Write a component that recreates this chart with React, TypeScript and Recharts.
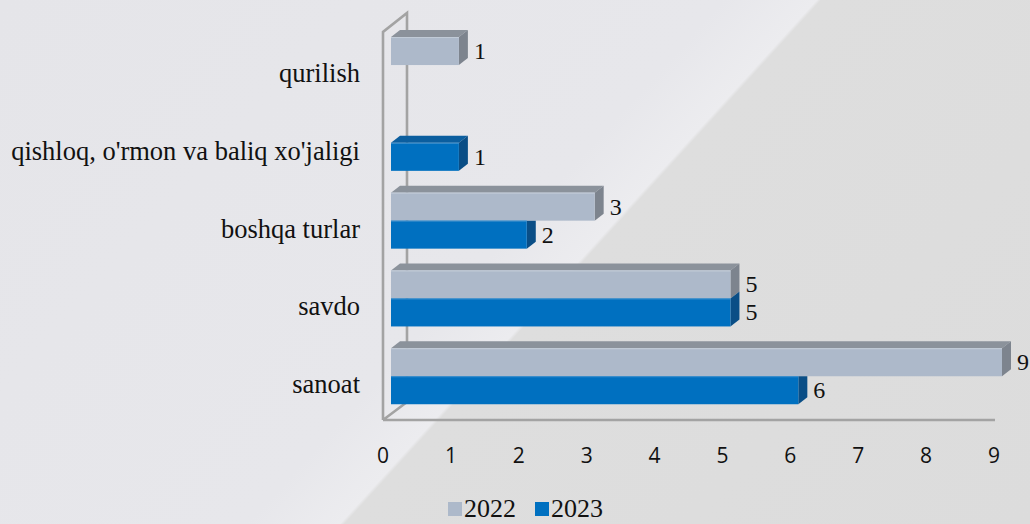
// Gráfico de barras horizontales con efecto 3D (estilo Excel) que compara
// 2022 y 2023 por sector. Las caras superior y lateral de cada barra se
// dibujan en un shape propio; el marco de la pared/suelo sale de un
// ReferenceLine para que sus coordenadas vengan de las escalas del chart.

import { BarChart, Bar, XAxis, YAxis, Legend, LabelList, ReferenceLine } from 'recharts'

const categorias = [
  'qurilish',
  "qishloq, o'rmon va baliq xo'jaligi",
  'boshqa turlar',
  'savdo',
  'sanoat',
]
const valores2022: (number | null)[] = [1, null, 3, 5, 9]
const valores2023: (number | null)[] = [null, 1, 2, 5, 6]
const ticksX = [0, 1, 2, 3, 4, 5, 6, 7, 8, 9]

const data = categorias.map((c, i) => ({
  categoria: c,
  v2022: valores2022[i],
  v2023: valores2023[i],
}))

// profundidad del efecto 3D
const DX = 9
const DY = 7

const SERIF = '"Liberation Serif", "Times New Roman", serif'
const SANS = '"Open Sans", "Noto Sans", sans-serif'

const COLOR_2022 = { frente: '#adb9ca', tapa: '#8b929b', lado: '#7d848e', borde: '#c3ccd8' }
const COLOR_2023 = { frente: '#0070c0', tapa: '#0b5e9f', lado: '#0a4e86', borde: '#3d8fcc' }

type Colores = typeof COLOR_2022

function Barra3D(props: any, colores: Colores, conTapa: boolean, recortarLado: boolean) {
  const { x, y, width, height } = props
  if (!width || width <= 0 || !height) return null
  const r = x + width
  const lado = recortarLado
    ? `${r},${y} ${r + DX},${y} ${r + DX},${y + height - DY} ${r},${y + height}`
    : `${r},${y} ${r + DX},${y - DY} ${r + DX},${y + height - DY} ${r},${y + height}`
  return (
    <g>
      {conTapa && (
        <polygon
          points={`${x},${y} ${x + DX},${y - DY} ${r + DX},${y - DY} ${r},${y}`}
          fill={colores.tapa}
        />
      )}
      <polygon points={lado} fill={colores.lado} />
      <rect x={x} y={y} width={width} height={height} fill={colores.frente} />
      <line x1={x} y1={y + 0.5} x2={r} y2={y + 0.5} stroke={colores.borde} strokeWidth={1} />
    </g>
  )
}

function forma2022(props: any) {
  return Barra3D(props, COLOR_2022, true, false)
}

function forma2023(props: any) {
  const arriba = props.payload?.v2022
  const propio = props.payload?.v2023
  const hayArriba = arriba != null
  return Barra3D(props, COLOR_2023, !hayArriba, hayArriba && arriba > propio)
}

function EtiquetaValor(props: any) {
  const { value } = props
  if (value == null) return null
  const vb = props.viewBox ?? props
  const { x, y, width, height } = vb
  return (
    <text
      x={x + width + DX + 6}
      y={y + height / 2}
      dominantBaseline="central"
      style={{ fontFamily: SERIF }}
      fontSize={24}
      fill="#111"
    >
      {value}
    </text>
  )
}

function TickCategoria({ x, y, payload }: any) {
  return (
    <text
      x={x - 31}
      y={y + 8}
      textAnchor="end"
      dominantBaseline="central"
      style={{ fontFamily: SERIF }}
      fontSize={26.5}
      fill="#111"
    >
      {payload.value}
    </text>
  )
}

function TickValor({ x, y, payload }: any) {
  return (
    <text
      x={x - 8}
      y={y + 40}
      textAnchor="middle"
      dominantBaseline="central"
      style={{ fontFamily: SANS }}
      fontSize={21}
      fill="#111"
    >
      {payload.value}
    </text>
  )
}

// Marco de la pared izquierda + suelo, a partir del segmento (0, primera
// categoría) → (9, última categoría) que da la escala del chart.
function MarcoPared(props: any) {
  const { x1, y1, x2, y2 } = props
  const banda = (y2 - y1) / (categorias.length - 1)
  const T = y1 - banda / 2
  const B = y2 + banda / 2
  const xf = x1 - 8
  const xb = x1 + 16
  const d = [
    `M${xf},${B + 5} L${xf},${T + 6} L${xb},${T - 13} L${xb},${B - 13}`,
    `M${xf},${B + 5} L${xb},${B - 13}`,
    `M${xf},${B + 5} L${x2 - 7},${B + 5}`,
  ].join(' ')
  return <path d={d} fill="none" stroke="#a3a3a3" strokeWidth={2.6} strokeLinejoin="miter" />
}

function LeyendaContenido({ payload }: any) {
  return (
    <div style={{ display: 'flex', alignItems: 'center', height: 26 }}>
      {(payload ?? []).map((p: any) => (
        <div key={p.value} style={{ display: 'flex', alignItems: 'center', marginRight: 19 }}>
          <span
            style={{ display: 'inline-block', width: 14, height: 14, background: p.color, marginRight: 2 }}
          />
          <span style={{ fontFamily: SERIF, fontSize: 26, lineHeight: '26px', color: '#111' }}>
            {p.value}
          </span>
        </div>
      ))}
    </div>
  )
}

export default function App() {
  return (
    <div
      style={{
        position: 'absolute',
        left: 0,
        top: 0,
        width: 1030,
        height: 524,
        overflow: 'hidden',
        background:
          'linear-gradient(132.3deg, #e5e5e9 0%, #e7e7eb 48%, #ececef 54.2%, #dedede 54.5%, #dcdcdc 100%)',
      }}
    >
      <BarChart
        width={1030}
        height={524}
        data={data}
        layout="vertical"
        margin={{ top: 26, right: 28, bottom: 53, left: 0 }}
        barCategoryGap="14.2%"
        barGap={0}
      >
        <ReferenceLine
          segment={[
            { x: 0, y: categorias[0] },
            { x: 9, y: categorias[categorias.length - 1] },
          ]}
          shape={MarcoPared}
          ifOverflow="visible"
          zIndex={-10}
        />
        <XAxis
          type="number"
          domain={[0, 9]}
          ticks={ticksX}
          axisLine={false}
          tickLine={false}
          tickSize={0}
          tickMargin={0}
          height={30}
          tick={<TickValor />}
          interval={0}
        />
        <YAxis
          type="category"
          dataKey="categoria"
          width={391}
          axisLine={false}
          tickLine={false}
          tickSize={0}
          tickMargin={0}
          tick={<TickCategoria />}
          interval={0}
        />
        <Legend
          verticalAlign="bottom"
          height={26}
          content={<LeyendaContenido />}
          wrapperStyle={{ top: 496, left: 448, width: 240, height: 26 }}
        />
        <Bar dataKey="v2022" name="2022" fill={COLOR_2022.frente} shape={forma2022} isAnimationActive={false}>
          <LabelList dataKey="v2022" content={<EtiquetaValor />} />
        </Bar>
        <Bar dataKey="v2023" name="2023" fill={COLOR_2023.frente} shape={forma2023} isAnimationActive={false}>
          <LabelList dataKey="v2023" content={<EtiquetaValor />} />
        </Bar>
      </BarChart>
    </div>
  )
}
